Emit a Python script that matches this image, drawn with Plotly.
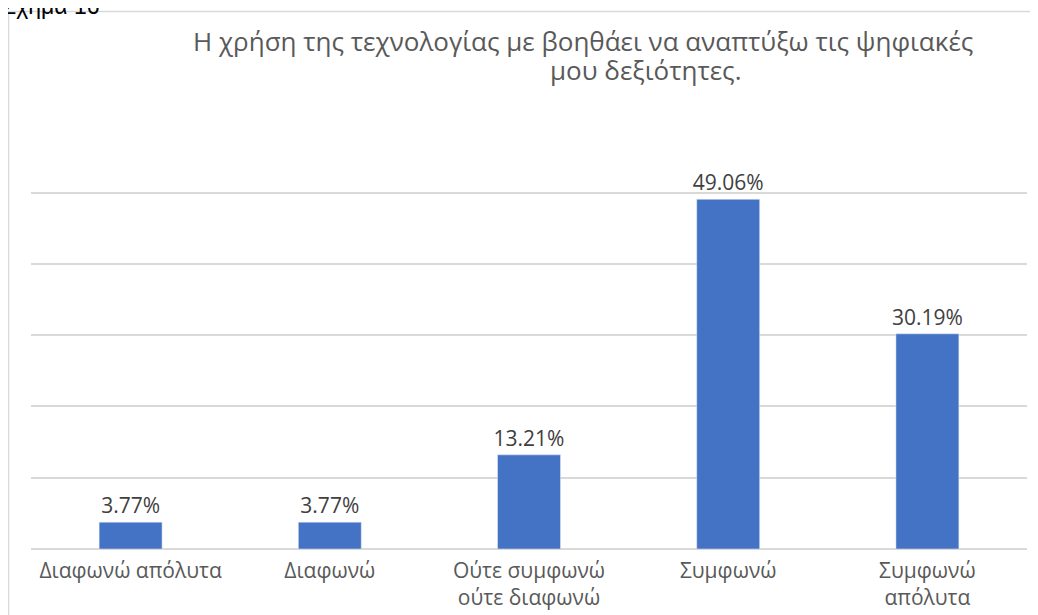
import plotly.graph_objects as go

# dados
categorias = ["Διαφωνώ απόλυτα", "Διαφωνώ", "Ούτε συμφωνώ<br>ούτε διαφωνώ", "Συμφωνώ", "Συμφωνώ<br>απόλυτα"]
percentuais = [3.77, 3.77, 13.21, 49.06, 30.19]
ticks_y = [0, 10, 20, 30, 40, 50, 60]

titulo_l1 = "Η χρήση της τεχνολογίας με βοηθάει να αναπτύξω τις ψηφιακές"
titulo_l2 = "μου δεξιότητες."

W, H = 1038, 615
OFF = 8  # margem do body da página
L, R, T, B = 31 - OFF, 11 + OFF, 121 - OFF, 62 + OFF
ph = H - T - B
pw = W - L - R

def px_x(x):
    # x em pixels da tela -> coordenada paper
    return (x - OFF - L) / pw

def px_y(y):
    return (H - B - (y - OFF)) / ph

fig = go.Figure()
fig.add_trace(go.Bar(
    x=categorias,
    y=percentuais,
    marker_color="#4472C4",
    text=[f"{v:.2f}%" for v in percentuais],
    textposition="outside",
    constraintext="none",
    textfont=dict(family="Open Sans", size=21, color="#404040"),
    cliponaxis=False,
    width=0.316,
))

fig.update_layout(
    width=W, height=H,
    margin=dict(l=L, r=R, t=T, b=B),
    paper_bgcolor="white",
    plot_bgcolor="white",
    showlegend=False,
    xaxis=dict(
        tickfont=dict(family="Open Sans", size=21, color="#595959"),
        showline=False, showgrid=False, ticks="", ticklabelstandoff=7,
    ),
    yaxis=dict(
        range=[0, 60.05], tickvals=ticks_y, showticklabels=False,
        showgrid=True, gridcolor="#d9d9d9", gridwidth=1.5,
        zeroline=True, zerolinecolor="#d9d9d9", zerolinewidth=1.5,
    ),
    shapes=[dict(
        type="rect", xref="paper", yref="paper",
        x0=px_x(8.5), x1=px_x(1060), y0=px_y(640), y1=px_y(10.5),
        line=dict(color="#d9d9d9", width=1.5), layer="below",
    )],
    annotations=[
        dict(text=titulo_l1, xref="paper", yref="paper", x=px_x(583), y=px_y(40),
             xanchor="center", yanchor="middle", showarrow=False,
             font=dict(family="Open Sans", size=26, color="#595959")),
        dict(text=titulo_l2, xref="paper", yref="paper", x=px_x(645), y=px_y(70),
             xanchor="center", yanchor="middle", showarrow=False,
             font=dict(family="Open Sans", size=26, color="#595959")),
        dict(text="Σχήμα 16", xref="paper", yref="paper", x=px_x(0), y=px_y(20),
             xanchor="left", yanchor="bottom", showarrow=False,
             font=dict(family="Liberation Sans", size=23, color="black")),
    ],
)

fig.write_html("out.html")
